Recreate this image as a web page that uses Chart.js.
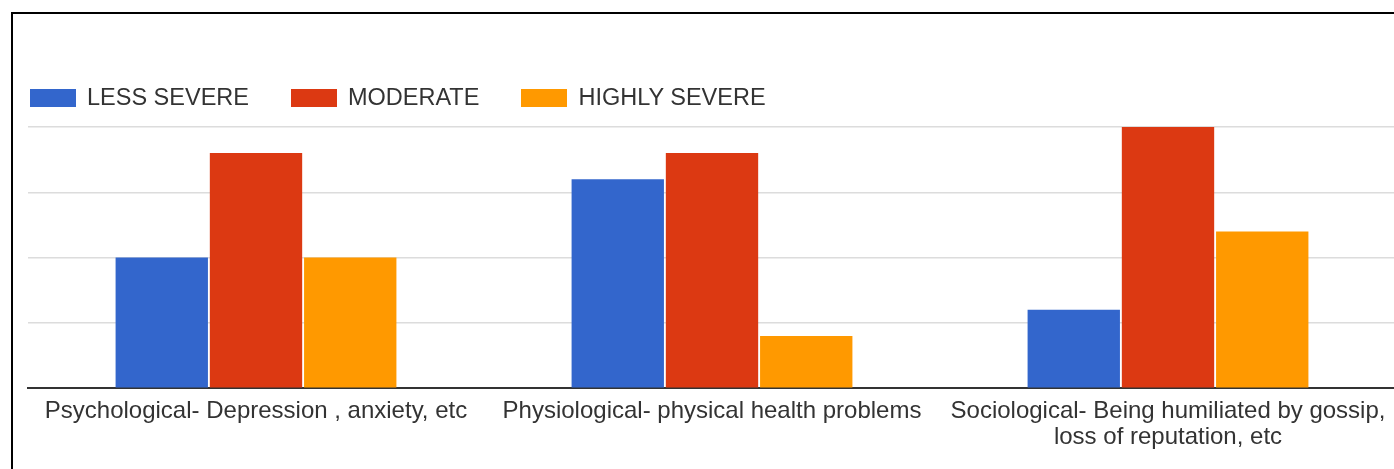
<!DOCTYPE html>
<html>
<head>
<meta charset="utf-8">
<script src="https://cdn.jsdelivr.net/npm/chart.js@4.4.1/dist/chart.umd.min.js"></script>
<style>
  html, body { margin: 0; padding: 0; background: #fff; overflow: hidden; }
  #wrap { position: relative; width: 1394px; height: 469px; overflow: hidden; }
  #chart { position: absolute; left: 0; top: 0; }
  #frame {
    position: absolute; left: 11px; top: 12px; right: -20px; bottom: -20px;
    border-left: 2px solid #000; border-top: 2px solid #000; pointer-events: none;
  }
  #legend {
    position: absolute; left: 30px; top: 84px; display: flex; align-items: center;
    font-family: "Liberation Sans", Arial, sans-serif; font-size: 23.5px; color: #333;
  }
  #legend .item { display: flex; align-items: center; margin-right: 42px; }
  #legend .box { width: 46px; height: 18px; margin-right: 11px; }
</style>
</head>
<body>
<div id="wrap">
  <canvas id="chart" width="1396" height="469"></canvas>
  <div id="legend"></div>
  <div id="frame"></div>
</div>
<script>
// Impact categories along the x axis (multi-line labels as arrays)
const categories = [
  "Psychological- Depression , anxiety, etc",
  "Physiological- physical health problems",
  ["Sociological- Being humiliated by gossip,", "loss of reputation, etc"]
];

// Severity series
const seriesNames = ["LESS SEVERE", "MODERATE", "HIGHLY SEVERE"];
const lessSevere   = [10, 16, 6];
const moderate     = [18, 18, 20];
const highlySevere = [10, 4, 12];
const seriesColors = ["#3366cc", "#dc3912", "#ff9900"];

// Value axis range (gridlines only, no tick labels shown)
const yMin = 0;
const yMax = 20;
const yStep = 5;

const seriesValues = [lessSevere, moderate, highlySevere];

// Legend row
const legendEl = document.getElementById("legend");
seriesNames.forEach((name, i) => {
  const item = document.createElement("div");
  item.className = "item";
  const box = document.createElement("span");
  box.className = "box";
  box.style.background = seriesColors[i];
  const label = document.createElement("span");
  label.textContent = name;
  item.appendChild(box);
  item.appendChild(label);
  legendEl.appendChild(item);
});

new Chart(document.getElementById("chart"), {
  type: "bar",
  data: {
    labels: categories,
    datasets: seriesNames.map((name, i) => ({
      label: name,
      data: seriesValues[i],
      backgroundColor: seriesColors[i],
      borderWidth: 0,
      categoryPercentage: 0.62,
      barPercentage: 0.98
    }))
  },
  options: {
    responsive: false,
    animation: false,
    events: [],
    layout: { padding: { left: 28, right: 0, top: 127, bottom: 8 } },
    plugins: {
      legend: { display: false },
      tooltip: { enabled: false }
    },
    scales: {
      x: {
        grid: { display: false, drawTicks: false },
        border: { display: true, color: "#333", width: 2 },
        ticks: {
          color: "#333",
          padding: 10,
          maxRotation: 0,
          autoSkip: false,
          font: { family: "'Liberation Sans', Arial, sans-serif", size: 24, lineHeight: 1.1 }
        }
      },
      y: {
        min: yMin,
        max: yMax,
        ticks: { display: false, stepSize: yStep },
        grid: { color: "#dcdcdc", lineWidth: 1.5, drawTicks: false },
        border: { display: false },
        afterFit(scale) { scale.width = 0; }
      }
    }
  }
});
</script>
</body>
</html>
